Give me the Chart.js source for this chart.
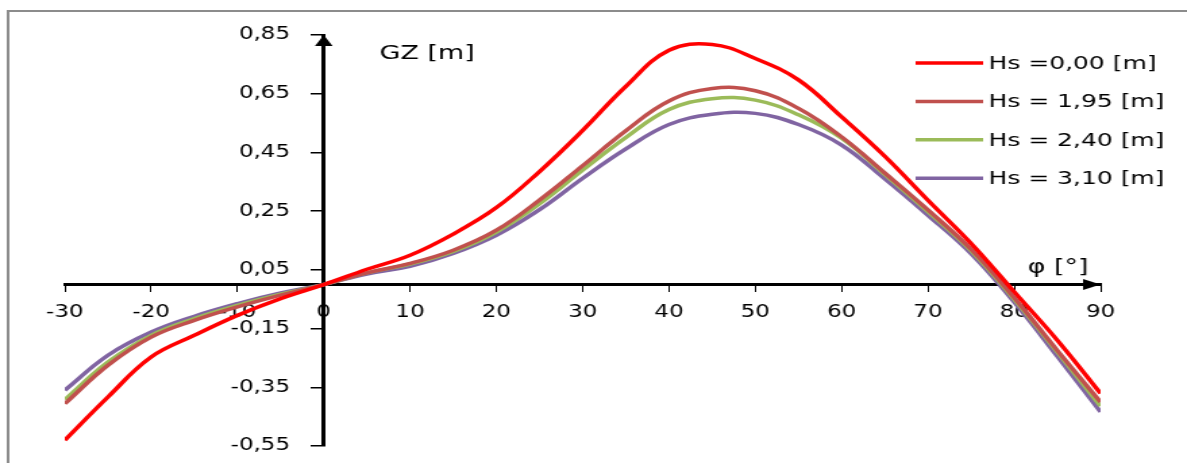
<!DOCTYPE html>
<html>
<head>
<meta charset="utf-8">
<script src="https://cdn.jsdelivr.net/npm/chart.js@4/dist/chart.umd.min.js"></script>
<style>
    body { margin: 0; background: #fff; overflow: hidden; }
    /* el original esta estirado en horizontal */
    #caja { position: absolute; left: 0; top: 0; width: 879px; height: 463px; transform: scaleX(1.3504); transform-origin: 0 0; }
</style>
</head>
<body>
<div id="caja"><canvas id="grafica"></canvas></div>
<script>
// angulo de escora [°]
const angulos = [-30, -25, -20, -15, -10, -5, 0, 5, 10, 15, 20, 25, 30, 35, 40, 45, 50, 55, 60, 65, 70, 75, 80, 85, 90];

// GZ [m] para cada altura de ola
const gzHs000 = [-0.530, -0.383, -0.247, -0.173, -0.105, -0.048, 0, 0.052, 0.100, 0.172, 0.262, 0.385, 0.525, 0.675, 0.798, 0.818, 0.770, 0.697, 0.571, 0.437, 0.287, 0.140, -0.025, -0.190, -0.371];
const gzHs195 = [-0.406, -0.275, -0.179, -0.122, -0.076, -0.036, 0, 0.040, 0.072, 0.117, 0.185, 0.288, 0.405, 0.524, 0.625, 0.668, 0.660, 0.600, 0.503, 0.380, 0.254, 0.120, -0.045, -0.225, -0.400];
const gzHs240 = [-0.392, -0.264, -0.173, -0.116, -0.071, -0.033, 0, 0.040, 0.070, 0.113, 0.179, 0.275, 0.390, 0.501, 0.596, 0.633, 0.628, 0.578, 0.498, 0.375, 0.248, 0.115, -0.050, -0.230, -0.414];
const gzHs310 = [-0.360, -0.241, -0.162, -0.108, -0.065, -0.029, 0, 0.036, 0.062, 0.106, 0.168, 0.255, 0.362, 0.462, 0.545, 0.580, 0.583, 0.545, 0.475, 0.360, 0.236, 0.105, -0.060, -0.245, -0.434];

const etiquetas = ['Hs =0,00 [m]', 'Hs = 1,95 [m]', 'Hs = 2,40 [m]', 'Hs = 3,10 [m]'];
const colores = ['#ff0000', '#c0504d', '#9bbb59', '#8064a2'];
const ticksY = [-0.55, -0.35, -0.15, 0.05, 0.25, 0.45, 0.65, 0.85];

const fuente = "'DejaVu Sans', Verdana, sans-serif";
Chart.defaults.font.family = fuente;
Chart.defaults.color = '#000';

const series = [gzHs000, gzHs195, gzHs240, gzHs310];
const formatoY = v => v.toFixed(2).replace('.', ',');

const decoracion = {
    id: 'decoracion',
    beforeDraw(chart) {
        const ctx = chart.ctx;
        ctx.save();
        ctx.strokeStyle = '#8c8c8c';
        ctx.lineWidth = 2;
        ctx.beginPath();
        ctx.moveTo(6, chart.height);
        ctx.lineTo(6, 11);
        ctx.lineTo(chart.width, 11);
        ctx.stroke();
        ctx.restore();
    },
    afterDraw(chart) {
        const ctx = chart.ctx;
        const ex = chart.scales.x;
        const ey = chart.scales.y;
        const x0 = ex.getPixelForValue(0);
        const y0 = ey.getPixelForValue(0);
        const arriba = ey.getPixelForValue(ey.max);
        const derecha = ex.getPixelForValue(ex.max);

        ctx.save();
        ctx.fillStyle = '#000';
        // etiquetas del eje Y, a la izquierda del eje
        ctx.font = '17px ' + fuente;
        ctx.textAlign = 'right';
        ctx.textBaseline = 'middle';
        ey.ticks.forEach(t => {
            ctx.fillText(formatoY(t.value), x0 - 25, ey.getPixelForValue(t.value));
        });
        ctx.textAlign = 'left';

        // flechas de los ejes
        ctx.beginPath();
        ctx.moveTo(x0, arriba);
        ctx.lineTo(x0 - 6.5, arriba + 11);
        ctx.lineTo(x0 + 6.5, arriba + 11);
        ctx.closePath();
        ctx.fill();

        ctx.beginPath();
        ctx.moveTo(derecha, y0);
        ctx.lineTo(derecha - 13, y0 - 5.5);
        ctx.lineTo(derecha - 13, y0 + 5.5);
        ctx.closePath();
        ctx.fill();

        // titulos de los ejes
        ctx.font = '20px ' + fuente;
        ctx.fillText('GZ [m]', 281, 54);
        ctx.fillText('φ [°]', 761, 268);

        // leyenda
        ctx.font = '18.5px ' + fuente;
        chart.data.datasets.forEach((ds, i) => {
            const yy = 63 + i * 38.4;
            ctx.strokeStyle = ds.borderColor;
            ctx.lineWidth = 3.5;
            ctx.beginPath();
            ctx.moveTo(678, yy);
            ctx.lineTo(728, yy);
            ctx.stroke();
            ctx.fillText(ds.label, 732, yy + 1);
        });
        ctx.restore();
    }
};

const instancia = document.getElementById('grafica').getContext('2d');
const myChart = new Chart(instancia, {
    type: 'line',
    data: {
        datasets: series.map((s, i) => ({
            label: etiquetas[i],
            data: angulos.map((a, j) => ({ x: a, y: s[j] })),
            borderColor: colores[i],
            backgroundColor: colores[i],
            borderWidth: 3.5,
            pointRadius: 0,
            tension: 0.4,
            fill: false
        }))
    },
    options: {
        responsive: true,
        maintainAspectRatio: false,
        animation: false,
        layout: { padding: { left: 48, right: 64, top: 35, bottom: 17 } },
        plugins: {
            legend: { display: false },
            tooltip: { enabled: false }
        },
        scales: {
            x: {
                type: 'linear',
                position: { y: 0 },
                min: -30,
                max: 90,
                afterFit: s => { s.height = 0; },
                ticks: {
                    stepSize: 10,
                    autoSkip: false,
                    maxRotation: 0,
                    padding: 12,
                    font: { size: 17 },
                    callback: v => String(v)
                },
                grid: { drawOnChartArea: false, drawTicks: true, tickLength: 6, color: '#000', lineWidth: 1 },
                border: { display: true, color: '#000', width: 3 }
            },
            y: {
                type: 'linear',
                position: { x: 0 },
                min: -0.55,
                max: 0.85,
                afterFit: s => { s.width = 0; },
                afterBuildTicks: s => { s.ticks = ticksY.map(v => ({ value: v })); },
                ticks: {
                    display: false
                },
                grid: { drawOnChartArea: false, drawTicks: true, tickLength: 8, color: '#000', lineWidth: 1.5 },
                border: { display: true, color: '#000', width: 3 }
            }
        }
    },
    plugins: [decoracion]
});
</script>
</body>
</html>
